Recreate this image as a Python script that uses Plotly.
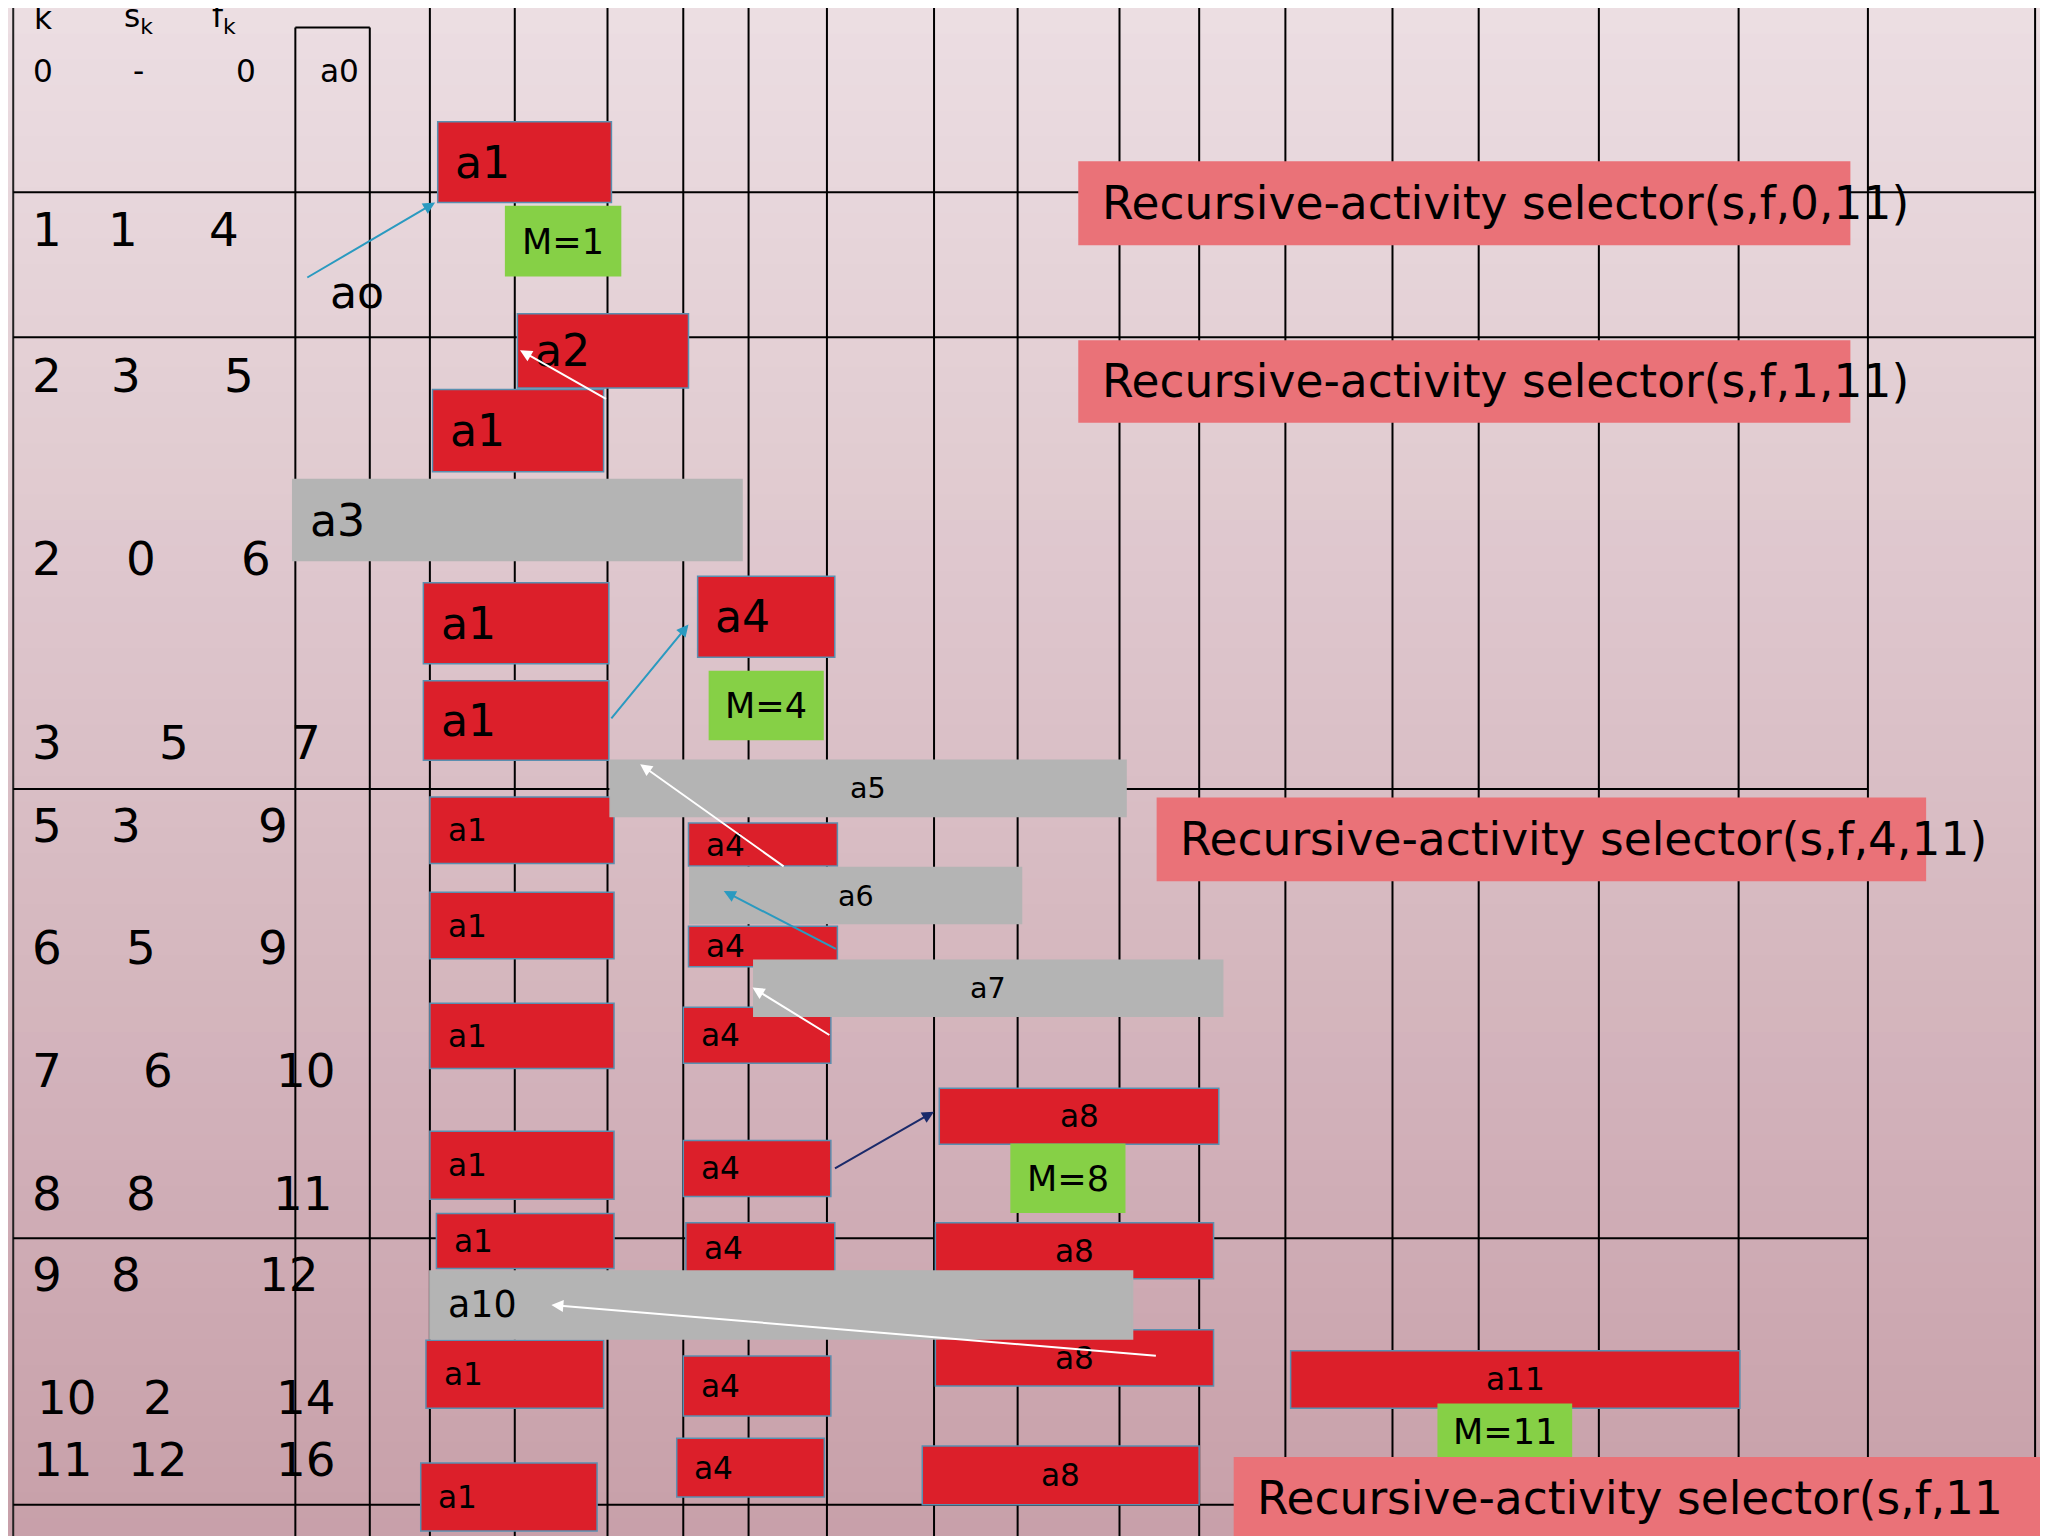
import plotly.graph_objects as go

W, H = 1568, 1176
S = 1.3
vlines = [220, 277, 323, 388, 459, 517, 567, 627, 709, 773, 851, 912, 978, 1060, 1126, 1218, 1325, 1424, 1552]
hlines = [(4, 1552, 141), (4, 1552, 252), (4, 1424, 598), (4, 1424, 942), (4, 1552, 1146)]

red_labels = ["a1","a2","a1","a4","a1","a1","a1","a4","a1","a4","a1","a4","a8","a1","a4","a1","a4","a8","a8","a1","a4","a11","a1","a4","a8"]
red_boxes = [(329,462,87,149),(390,521,234,291),(325,456,292,355),(528,633,435,497),(318,460,440,502),
             (318,460,515,576),(323,464,604,655),(521,635,624,657),(323,464,677,728),(521,635,703,734),
             (323,464,762,812),(517,630,765,808),(713,927,827,870),(323,464,860,912),(517,630,867,910),
             (328,464,923,965),(519,633,930,968),(710,923,930,973),(710,923,1012,1055),(320,456,1020,1072),
             (517,630,1032,1078),(982,1326,1028,1072),(316,451,1114,1166),(512,625,1095,1140),(700,912,1101,1146)]
red_big = [1,1,1,1,1,1,0,0,0,0,0,0,0,0,0,0,0,0,0,0,0,0,0,0,0]
gray_labels = ["a3","a5","a6","a7","a10"]
gray_boxes = [(218,562,361,423),(461,856,576,619),(522,776,658,701),(571,930,729,772),(323,861,967,1019)]
green_labels = ["M=1","M=4","M=8","M=11"]
green_boxes = [(381,469,152,205),(537,624,508,560),(768,855,870,922),(1095,1197,1069,1110)]
salmon_labels = ["Recursive-activity selector(s,f,0,11)","Recursive-activity selector(s,f,1,11)",
                 "Recursive-activity selector(s,f,4,11)","Recursive-activity selector(s,f,11"]
salmon_boxes = [(820,1410,118,181),(820,1410,255,317),(880,1468,605,668),(939,1568,1110,1172)]
table_text = [("k",27,8),("s<sub>k</sub>",100,8),("f<sub>k</sub>",165,8),("0",27,48),("-",100,48),("0",182,48),
              ("1",30,170),("1",88,170),("4",165,170),("2",30,282),("3",90,282),("5",177,282),
              ("2",30,422),("0",102,422),("6",190,422),("3",30,563),("5",127,563),("7",228,563),
              ("5",30,626),("3",90,626),("9",203,626),("6",30,720),("5",102,720),("9",203,720),
              ("7",30,814),("6",115,814),("10",228,814),("8",30,908),("8",102,908),("11",226,908),
              ("9",30,970),("8",90,970),("12",215,970),("10",45,1064),("2",115,1064),("14",228,1064),
              ("11",42,1112),("12",115,1112),("16",228,1112)]
arrows = [((228,207),(327,149),"#2a9ac0"),((459,300),(392,262),"white"),((461,545),(521,472),"#2a9ac0"),
          ((595,658),(484,579),"white"),((635,721),(548,676),"#2a9ac0"),((630,787),(570,750),"white"),
          ((632,889),(709,845),"#1a2a6a"),((880,1032),(416,993),"white")]

fig = go.Figure()
fig.add_trace(go.Scatter(x=[0, W], y=[0, H], mode="markers", marker=dict(opacity=0), hoverinfo="skip"))
shapes = []
N = 60
for i in range(N):
    t = i / (N - 1)
    c = (int(236 - 36*t), int(222 - 62*t), int(226 - 56*t))
    shapes.append(dict(type="rect", x0=0, x1=W, y0=H*i/N, y1=H*(i+1)/N + 1, fillcolor="rgb(%d,%d,%d)" % c,
                       line=dict(width=0), layer="below"))
for x in vlines:
    shapes.append(dict(type="line", x0=x, x1=x, y0=15 if x in (220, 277) else 0, y1=H, line=dict(color="black", width=2)))
shapes.append(dict(type="line", x0=220, x1=277, y0=15, y1=15, line=dict(color="black", width=2)))
shapes.append(dict(type="line", x0=4, x1=4, y0=0, y1=H, line=dict(color="#222", width=2)))
for x0, x1, y in hlines:
    shapes.append(dict(type="line", x0=x0, x1=x1, y0=y, y1=y, line=dict(color="black", width=2)))
ann = []
def box(b, fill, edge, label, size, color="black", center=False, pad=12):
    x0, x1, y0, y1 = b
    shapes.append(dict(type="rect", x0=x0, x1=x1, y0=y0, y1=y1, fillcolor=fill, line=dict(color=edge, width=1.5)))
    ann.append(dict(x=(x0+x1)/2 if center else x0+pad, y=(y0+y1)/2, text=label, showarrow=False,
                    xanchor="center" if center else "left", yanchor="middle",
                    font=dict(size=size*S, color=color, family="DejaVu Sans")))
for lab, b, big in zip(red_labels, red_boxes, red_big):
    box(b, "#dc1f2a", "#5a8fb0", lab, 34 if big else 24, center=lab in ("a8", "a11"))
for lab, b in zip(gray_labels, gray_boxes):
    big = lab in ("a3", "a10")
    box(b, "#b4b4b4", "#b4b4b4", lab, 34 if lab == "a3" else (28 if big else 22), center=not big)
for lab, b in zip(green_labels, green_boxes):
    box(b, "#86d046", "#86d046", lab, 27, center=True)
for lab, b in zip(salmon_labels, salmon_boxes):
    box(b, "#ea7278", "#ea7278", lab, 35, pad=16)
for t, x, y in table_text:
    ann.append(dict(x=x, y=y, text=t, showarrow=False, xanchor="center", yanchor="middle",
                    font=dict(size=(24 if y < 60 else 36)*S, color="black", family="DejaVu Sans")))
ann.append(dict(x=267, y=218, text="ao", showarrow=False, font=dict(size=34*S, color="black", family="DejaVu Sans")))
ann.append(dict(x=254, y=48, text="a0", showarrow=False, font=dict(size=24*S, color="black", family="DejaVu Sans")))
for (ax, ay), (x, y), col in arrows:
    ann.append(dict(x=x, y=y, ax=ax, ay=ay, xref="x", yref="y", axref="x", ayref="y", text="",
                    showarrow=True, arrowhead=2, arrowsize=1.2, arrowwidth=2, arrowcolor=col))
fig.update_layout(width=2048, height=1536, margin=dict(l=0, r=0, t=0, b=0), showlegend=False,
                  shapes=shapes, annotations=ann, plot_bgcolor="white", paper_bgcolor="white",
                  xaxis=dict(range=[0, W], visible=False, fixedrange=True),
                  yaxis=dict(range=[H, 0], visible=False, fixedrange=True))
fig.write_html("out.html")
